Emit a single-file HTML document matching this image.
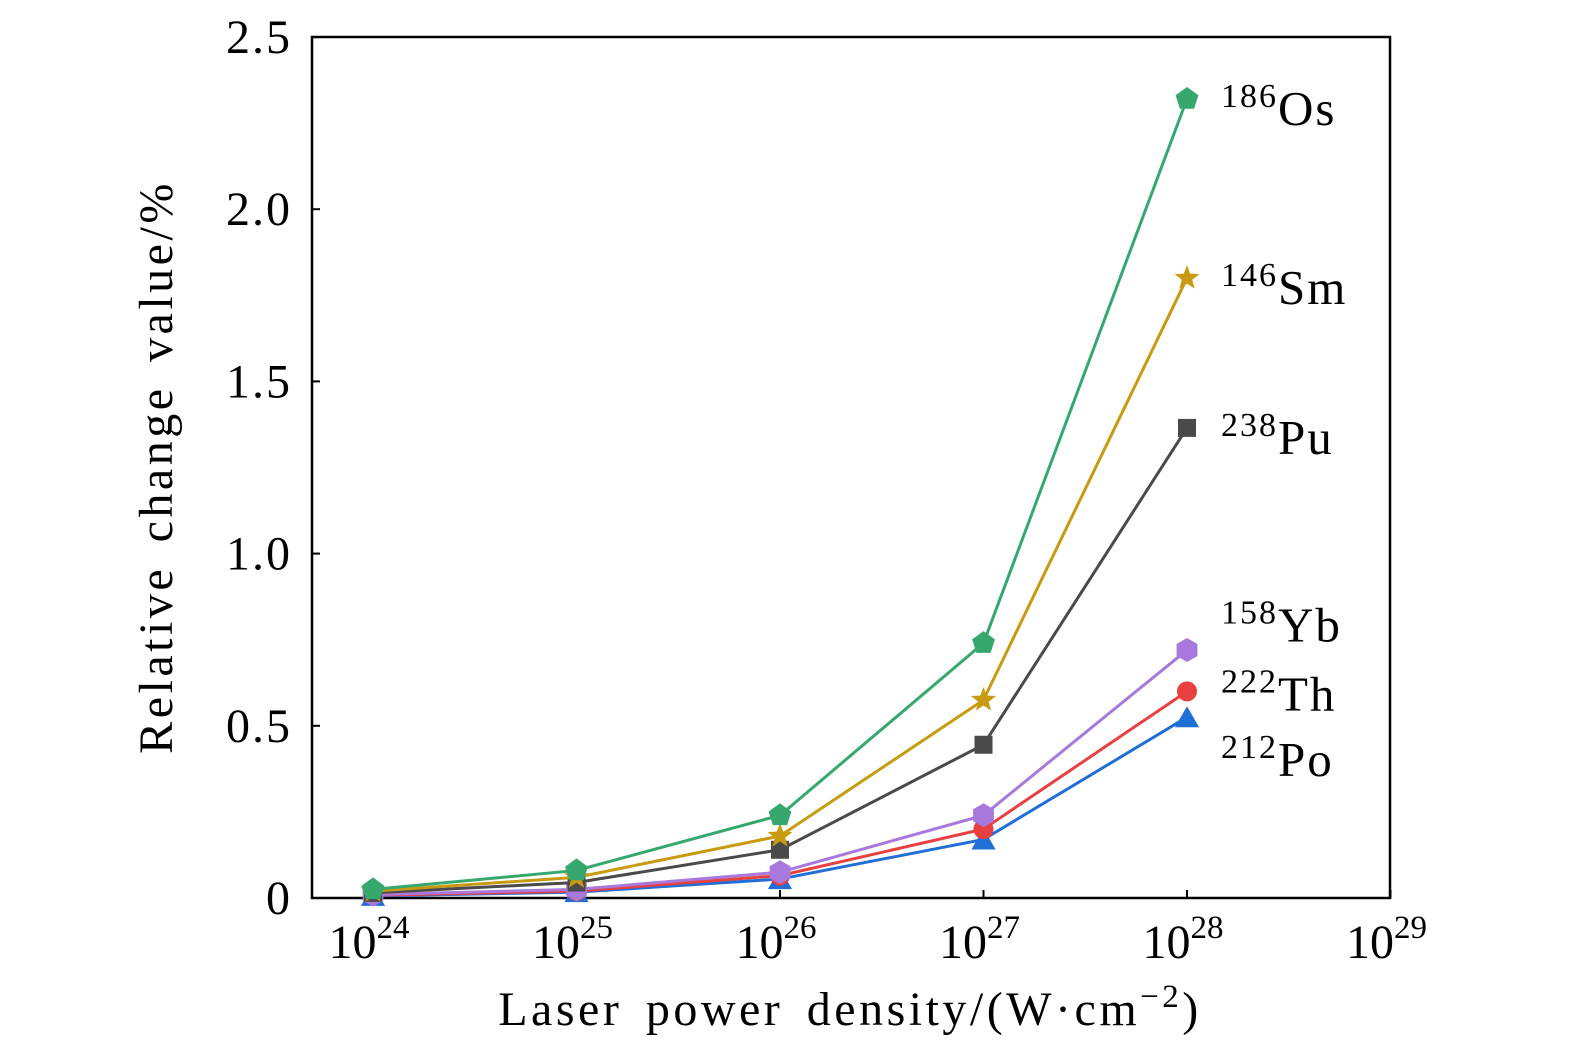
<!DOCTYPE html>
<html><head><meta charset="utf-8"><style>
body{margin:0;background:#fff}
svg{display:block;font-family:"Liberation Serif",serif}
</style></head><body>
<svg id="c" width="1575" height="1053"></svg>
<script>
const categories=[24,25,26,27,28];
const seriesNames=["186Os","146Sm","238Pu","158Yb","222Th","212Po"];
const os=[0.025,0.08,0.24,0.74,2.32];
const sm=[0.02,0.06,0.18,0.575,1.80];
const pu=[0.015,0.045,0.14,0.445,1.365];
const yb=[0.01,0.025,0.075,0.24,0.72];
const th=[0.008,0.02,0.065,0.20,0.60];
const po=[0.006,0.017,0.055,0.17,0.525];
const yTicks=[0,0.5,1.0,1.5,2.0,2.5];
const yTickLabels=["0","0.5","1.0","1.5","2.0","2.5"];
const xTicks=[24,25,26,27,28,29];
const labelSup=["186","146","238","158","222","212"];
const labelEl=["Os","Sm","Pu","Yb","Th","Po"];
const labelY=[2.32,1.8,1.365,0.82,0.62,0.43];

const L=312,R=1390,T=37,B=898;
const X=e=>373+(e-24)*203.5;
const Y=v=>B-(v/2.5)*(B-T);
const svg=document.getElementById('c');
const NS='http://www.w3.org/2000/svg';
function mk(tag,at,parent){const e=document.createElementNS(NS,tag);for(const k in at)e.setAttribute(k,at[k]);(parent||svg).appendChild(e);return e;}

const frame=mk('rect',{x:L,y:T,width:R-L,height:B-T,fill:'none',stroke:'#000','stroke-width':2.5});



yTicks.forEach((v,i)=>{
  const t=mk('line',{x1:L,x2:L+8,y1:Y(v),y2:Y(v),stroke:'#000','stroke-width':2});
  
  
  const tx=mk('text',{x:L-20,y:Y(v)+16,'text-anchor':'end','font-size':48,'letter-spacing':'2'});
  tx.textContent=yTickLabels[i];
  
  
});
xTicks.forEach(e=>{
  const t=mk('line',{x1:X(e),x2:X(e),y1:B,y2:B-8,stroke:'#000','stroke-width':2});
  
  
  const tx=mk('text',{x:X(e)-4,y:B+60,'text-anchor':'middle','font-size':48});
  tx.innerHTML='10<tspan dy="-20" font-size="33">'+e+'</tspan>';
  
  
});

const xt=mk('text',{x:850,y:1025,'text-anchor':'middle','font-size':48,'letter-spacing':'3.5','word-spacing':'8'});
xt.innerHTML='Laser power density/(W·cm<tspan dy="-18" font-size="33">−2</tspan><tspan dy="18">)</tspan>';


const yt=mk('text',{x:0,y:0,'text-anchor':'middle','font-size':48,'letter-spacing':'3.5','word-spacing':'8',transform:'translate(172,467) rotate(-90)'});
yt.textContent='Relative change value/%';



const data=[os,sm,pu,yb,th,po];
const colors=['#36a86e','#c89a10','#4a4a4a','#a878dc','#e84040','#1f6fd6'];
const shapes=['pent','star','sq','hex','circ','tri'];
function poly(cx,cy,n,r,rot,r2){let p=[];const m=r2?2*n:n;for(let i=0;i<m;i++){const a=rot+i*Math.PI*2/m;const rr=r2&&i%2?r2:r;p.push((cx+rr*Math.sin(a)).toFixed(1)+','+(cy-rr*Math.cos(a)).toFixed(1));}return p.join(' ');}
function marker(s,cx,cy,c,g){
  let e;
  if(s==='pent')e=mk('polygon',{points:poly(cx,cy,5,12,0),fill:c},g);
  else if(s==='star')e=mk('polygon',{points:poly(cx,cy,5,13,0,5.5),fill:c},g);
  else if(s==='sq')e=mk('rect',{x:cx-9,y:cy-9,width:18,height:18,fill:c},g);
  else if(s==='hex')e=mk('polygon',{points:poly(cx,cy,6,12,0),fill:c},g);
  else if(s==='circ')e=mk('circle',{cx:cx,cy:cy,r:10,fill:c},g);
  else e=mk('polygon',{points:poly(cx,cy+3,3,14,0),fill:c},g);
  return e;
}
[5,4,3,2,1,0].forEach(si=>{
  const g=mk('g',{});
  
  
  const pts=categories.map((e,i)=>X(e)+','+Y(data[si][i])).join(' ');
  const ln=mk('polyline',{points:pts,fill:'none',stroke:colors[si],'stroke-width':3},g);
  
  
  categories.forEach((e,i)=>{
    const m=marker(shapes[si],X(e),Y(data[si][i]),colors[si],g);
    
    
  });
  const lb=mk('text',{x:1221,y:Y(labelY[si])+26,'font-size':49,'letter-spacing':'2'});
  lb.innerHTML='<tspan dy="-18" font-size="34">'+labelSup[si]+'</tspan><tspan dy="18">'+labelEl[si]+'</tspan>';
  
  
});
</script>
</body></html>
